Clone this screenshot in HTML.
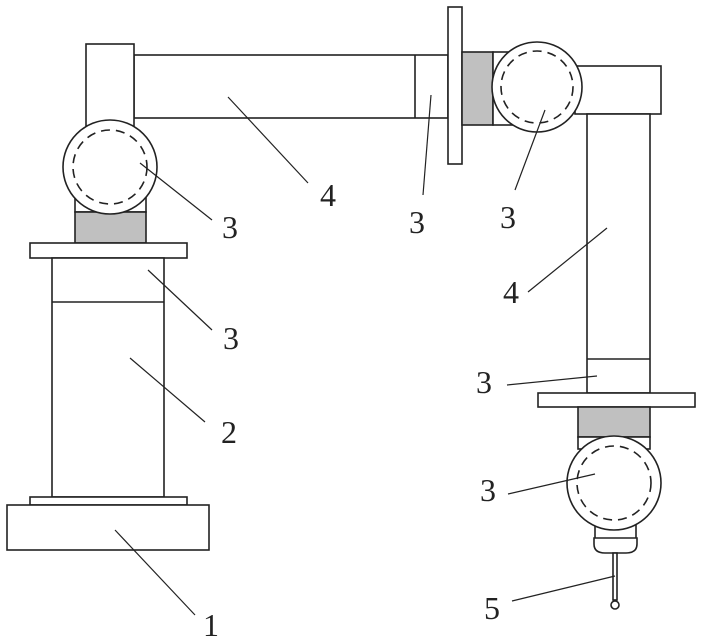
<!DOCTYPE html>
<html><head><style>html,body{margin:0;padding:0;background:#fff}svg{display:block}</style></head><body>
<svg width="702" height="642" viewBox="0 0 702 642" xmlns="http://www.w3.org/2000/svg">
<g fill="#fff" stroke="#222" stroke-width="1.6">
<!-- top arm -->
<rect x="134" y="55" width="314" height="63"/>
<line x1="415" y1="55" x2="415" y2="118"/>
<rect x="86" y="44" width="48" height="84"/>
<!-- left joint -->
<rect x="75" y="180" width="71" height="32"/>
<rect x="75" y="212" width="71" height="31" fill="#c0c0c0"/>
<circle cx="110" cy="167" r="47"/>
<circle cx="110" cy="167" r="37" stroke-dasharray="9,6"/>
<!-- column -->
<rect x="30" y="243" width="157" height="15"/>
<rect x="52" y="258" width="112" height="239"/>
<line x1="52" y1="302" x2="164" y2="302"/>
<rect x="30" y="497" width="157" height="8"/>
<rect x="7" y="505" width="202" height="45"/>
<!-- top right -->
<rect x="448" y="7" width="14" height="157"/>
<rect x="462" y="52" width="31" height="73" fill="#c0c0c0"/>
<rect x="493" y="52" width="20" height="73"/>
<rect x="575" y="66" width="86" height="48"/>
<rect x="587" y="114" width="63" height="279"/>
<line x1="587" y1="359" x2="650" y2="359"/>
<circle cx="537" cy="87" r="45"/>
<circle cx="537" cy="87" r="36" stroke-dasharray="9,6"/>
<!-- bottom right -->
<rect x="538" y="393" width="157" height="14"/>
<rect x="578" y="407" width="72" height="30" fill="#c0c0c0"/>
<rect x="578" y="437" width="72" height="12"/>
<rect x="595" y="515" width="41" height="24"/>
<path d="M594 538 H637 V544 Q637 553 626 553 H605 Q594 553 594 544 Z"/>
<circle cx="614" cy="483" r="47"/>
<circle cx="614" cy="483" r="37" stroke-dasharray="9,6"/>
<rect x="613" y="553" width="4" height="47"/>
<circle cx="615" cy="605" r="4"/>
</g>
<g stroke="#222" stroke-width="1.2">
<line x1="228" y1="97" x2="308" y2="183"/>
<line x1="140" y1="163" x2="212" y2="220"/>
<line x1="148" y1="270" x2="212" y2="330"/>
<line x1="130" y1="358" x2="205" y2="422"/>
<line x1="115" y1="530" x2="195" y2="615"/>
<line x1="431" y1="95" x2="423" y2="195"/>
<line x1="545" y1="110" x2="515" y2="190"/>
<line x1="607" y1="228" x2="528" y2="292"/>
<line x1="597" y1="376" x2="507" y2="385"/>
<line x1="595" y1="474" x2="508" y2="494"/>
<line x1="615" y1="576" x2="512" y2="601"/>
</g>
<g font-family="Liberation Serif, serif" font-size="32" fill="#222" text-anchor="middle">
<text x="328" y="206">4</text>
<text x="230" y="238">3</text>
<text x="231" y="349">3</text>
<text x="229" y="443">2</text>
<text x="211" y="636">1</text>
<text x="417" y="233">3</text>
<text x="508" y="228">3</text>
<text x="511" y="303">4</text>
<text x="484" y="393">3</text>
<text x="488" y="501">3</text>
<text x="492" y="619">5</text>
</g>
</svg>
</body></html>
